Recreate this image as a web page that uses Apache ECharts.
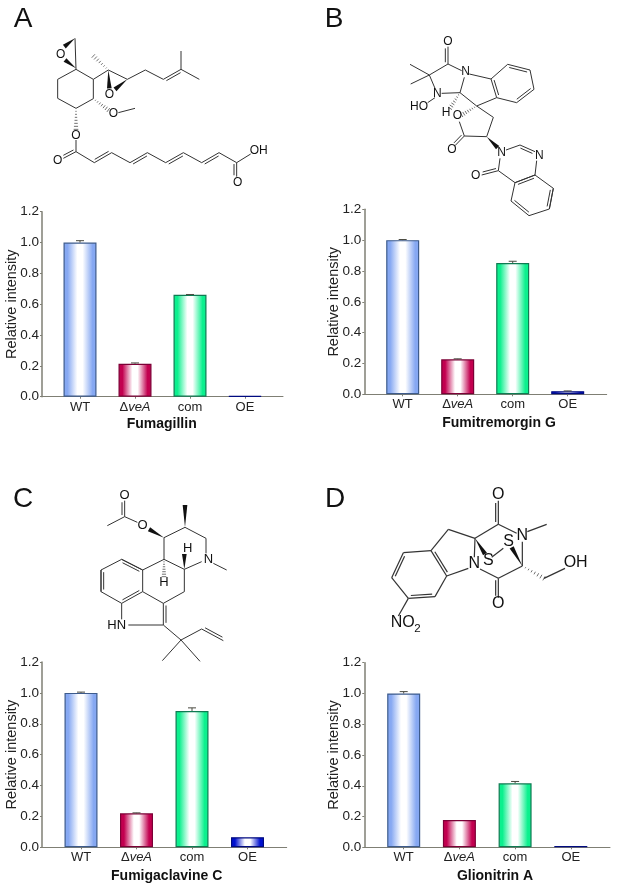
<!DOCTYPE html>
<html>
<head>
<meta charset="utf-8">
<title>Relative intensity of four metabolites</title>
<script src="https://cdn.jsdelivr.net/npm/echarts@6/dist/echarts.min.js"></script>
<style>
  html, body { margin: 0; background: #fff; }
  #chart { width: 617px; height: 890px; }
</style>
</head>
<body>
<div id="chart"></div>
<script>
const categories = ['WT', 'ΔveA', 'com', 'OE'];
const yTicks = [0, 0.2, 0.4, 0.6, 0.8, 1.0, 1.2];

const compounds = ['Fumagillin', 'Fumitremorgin G', 'Fumigaclavine C', 'Glionitrin A'];
const panelLetters = ['A', 'B', 'C', 'D'];

const fumagillinValues = [1.0, 0.214, 0.661, 0.004];
const fumagillinErrors = [0.012, 0.005, 0.002, 0];
const fumitremorginValues = [1.0, 0.227, 0.851, 0.02];
const fumitremorginErrors = [0.004, 0.003, 0.012, 0.002];
const fumigaclavineValues = [1.0, 0.22, 0.883, 0.065];
const fumigaclavineErrors = [0.005, 0.003, 0.02, 0];
const glionitrinValues = [1.0, 0.177, 0.416, 0.008];
const glionitrinErrors = [0.012, 0, 0.012, 0];

const allValues = [fumagillinValues, fumitremorginValues, fumigaclavineValues, glionitrinValues];
const allErrors = [fumagillinErrors, fumitremorginErrors, fumigaclavineErrors, glionitrinErrors];

// plot boxes in page pixels: axis ends, first bar centre, distance between bars
const boxes = [
  { left: 42, right: 283, top: 211.7, bottom: 396.7, first: 80, band: 55 },
  { left: 364.3, right: 606.7, top: 209.3, bottom: 394.3, first: 402.7, band: 55 },
  { left: 42, right: 286.7, top: 662, bottom: 847.3, first: 81, band: 55.5 },
  { left: 364.3, right: 610, top: 662.7, bottom: 847.3, first: 403.7, band: 55.7 }
];
const letterPos = [[23, 19], [334, 19], [23, 499.5], [335, 499.5]];
const titlePos = [[161.7, 424], [499, 423], [166.7, 876], [495, 876]];

const barColors = [
  { edge: '#86a8f2', border: '#3d5b8c' },
  { edge: '#c2004f', border: '#7c0036' },
  { edge: '#0cf08e', border: '#0f7a52' },
  { edge: '#0010cf', border: '#000a80' }
];

const inkColor = '#222';
const axisColor = '#7f7f74';
const fontFamily = '"Liberation Sans", Arial, sans-serif';

function barFill(edge) {
  return new echarts.graphic.LinearGradient(0, 0, 1, 0, [
    { offset: 0, color: edge },
    { offset: 0.12, color: edge },
    { offset: 0.42, color: '#fff' },
    { offset: 0.58, color: '#fff' },
    { offset: 0.88, color: edge },
    { offset: 1, color: edge }
  ]);
}

// Structures are traced in 3x crop units from an origin; see drawStructure
const structures = [
  {
    origin: [0, 0], font: 12, width: 1,
    lines: [
      [228,208,280,238,280,296,228,325,173,295,173,238,228,208],
      [225,115,228,208], [280,238,325,210], [325,210,382,238],
      [382,238,436,210,490,238], [543,208,598,238], [543,208,543,153],
      [355,338,405,325], [228,420,228,455], [228,455,283,488],
      [335,458,390,488], [442,458,497,488], [550,458,605,488],
      [657,458,710,488,752,462]
    ],
    doubles: [
      [490,238,543,208,1], [228,455,190,475,1], [283,488,335,458,-1], [390,488,442,458,1],
      [497,488,550,458,1], [605,488,657,458,1], [710,488,710,530,1]
    ],
    wedges: [[225,115,193,140], [228,205,195,180], [325,210,328,265], [382,238,345,268]],
    hashes: [[325,210,280,168], [280,296,325,330], [228,325,228,388]],
    labels: [
      ['O',182,163], ['O',328,283], ['O',340,342], ['O',228,407], ['O',173,481],
      ['OH',776,452], ['O',713,547]
    ]
  },
  {
    origin: [320, 0], font: 12, width: 1,
    lines: [
      [384,192,425,212], [384,192,328,225], [328,225,270,193], [328,225,272,252], [328,225,345,265],
      [365,280,420,278], [420,278,433,232], [345,293,323,308], [420,278,470,318], [470,318,530,293],
      [448,222,513,237], [513,237,563,193], [630,210,642,268], [590,308,530,293],
      [470,318,520,352,500,410,433,408,418,365], [558,450,600,435], [650,482,645,525,700,565],
      [645,525,585,548], [585,548,535,512,540,475], [688,627,627,647], [573,603,585,548], [700,565,688,627]
    ],
    doubles: [
      [384,140,384,192,1], [563,193,630,210,1], [642,268,590,308,1], [513,237,530,293,-1],
      [433,408,405,437,1], [600,435,645,455,1], [535,512,485,525,1],
      [585,548,645,525,1], [700,565,688,627,1], [627,647,573,603,1]
    ],
    wedges: [[500,410,533,443]],
    hashes: [[420,278,390,325], [470,318,425,345]],
    labels: [
      ['O',384,126], ['N',437,216], ['N',352,280], ['HO',297,320], ['H',378,337], ['O',412,347],
      ['O',396,450], ['N',545,458], ['N',658,466], ['O',467,527]
    ]
  },
  {
    origin: [0, 470], font: 13, width: 1,
    lines: [
      [374,140,322,167], [374,140,412,157], [492,203,555,172,618,205,618,250], [492,203,492,268],
      [492,268,553,298,605,275], [640,280,680,300], [492,268,428,300], [553,298,553,365,490,400],
      [428,300,365,268], [303,300,303,365], [428,365,428,300], [365,400,303,365], [365,268,303,300],
      [428,365,490,400], [490,465,385,465], [365,400,365,448], [490,465,543,510,605,477],
      [543,510,487,572], [543,510,600,574]
    ],
    doubles: [
      [374,92,374,140,1], [365,268,428,300,1], [303,300,303,365,-1], [365,400,428,365,-1],
      [490,400,490,465,-1], [605,477,670,512,-1]
    ],
    wedges: [[492,203,447,178], [555,172,555,105], [553,298,553,252]],
    hashes: [[492,268,492,320]],
    labels: [['O',374,77], ['O',428,165], ['N',625,268], ['H',563,236], ['H',492,337], ['HN',350,467]]
  },
  {
    origin: [320, 470], font: 16, width: 1.2,
    lines: [
      [535,163,465,205,385,178,333,242], [535,163,590,190], [622,185,680,163],
      [465,205,463,262], [515,262,550,235], [607,288,607,215], [480,297,535,325,607,288],
      [672,325,735,295], [333,242,250,248], [215,323,265,385], [345,380,380,318],
      [380,318,445,295], [265,385,235,438]
    ],
    doubles: [
      [535,92,535,163,1], [535,325,535,383,1], [333,242,380,318,-1], [250,248,215,323,-1], [265,385,345,380,-1]
    ],
    wedges: [[465,205,495,252], [607,288,575,232]],
    hashes: [[607,288,672,325]],
    labels: [
      ['O',535,75], ['N',607,197], ['S',566,215], ['S',505,272], ['N',463,280],
      ['OH',767,277], ['O',535,400], ['NO',248,458]
    ],
    subs: [['2',292,475]]
  }
];

function drawStructure(mol) {
  const [ox, oy] = mol.origin;
  const px = x => ox + x / 3;
  const py = y => oy + y / 3;
  const ink = '#333';
  const out = [];
  const seg = (x1, y1, x2, y2, w) => out.push({
    type: 'line',
    shape: { x1: px(x1), y1: py(y1), x2: px(x2), y2: py(y2) },
    style: { stroke: ink, lineWidth: w || mol.width }
  });

  mol.lines.forEach(l => {
    for (let i = 0; i + 3 < l.length; i += 2) seg(l[i], l[i + 1], l[i + 2], l[i + 3]);
  });

  mol.doubles.forEach(([x1, y1, x2, y2, side]) => {
    seg(x1, y1, x2, y2);
    const len = Math.hypot(x2 - x1, y2 - y1);
    const nx = -(y2 - y1) / len * 8 * side;
    const ny = (x2 - x1) / len * 8 * side;
    const tx = (x2 - x1) * 0.1;
    const ty = (y2 - y1) * 0.1;
    seg(x1 + nx + tx, y1 + ny + ty, x2 + nx - tx, y2 + ny - ty);
  });

  mol.wedges.forEach(([x1, y1, x2, y2]) => {
    const len = Math.hypot(x2 - x1, y2 - y1);
    const nx = -(y2 - y1) / len * 7;
    const ny = (x2 - x1) / len * 7;
    out.push({
      type: 'polygon',
      shape: { points: [[px(x1), py(y1)], [px(x2 + nx), py(y2 + ny)], [px(x2 - nx), py(y2 - ny)]] },
      style: { fill: '#111' }
    });
  });

  mol.hashes.forEach(([x1, y1, x2, y2]) => {
    const len = Math.hypot(x2 - x1, y2 - y1);
    const ux = -(y2 - y1) / len;
    const uy = (x2 - x1) / len;
    const n = 7;
    for (let i = 1; i <= n; i++) {
      const t = i / n;
      const cx = x1 + (x2 - x1) * t;
      const cy = y1 + (y2 - y1) * t;
      const h = 1 + 6 * t;
      seg(cx - ux * h, cy - uy * h, cx + ux * h, cy + uy * h, 0.7);
    }
  });

  mol.labels.forEach(([text, x, y]) => out.push({
    type: 'text',
    x: px(x), y: py(y),
    style: { text, fill: '#111', font: `${mol.font}px ${fontFamily}`, align: 'center', verticalAlign: 'middle' }
  }));

  (mol.subs || []).forEach(([text, x, y]) => out.push({
    type: 'text',
    x: px(x), y: py(y),
    style: { text, fill: '#111', font: `${mol.font * 0.72}px ${fontFamily}`, align: 'center', verticalAlign: 'middle' }
  }));

  return out;
}

const chart = echarts.init(document.getElementById('chart'), null, { renderer: 'canvas' });

const grids = [], xAxes = [], yAxes = [], titles = [], series = [];

boxes.forEach((box, p) => {
  grids.push({
    left: box.left,
    top: box.top,
    width: box.right - box.left,
    height: box.bottom - box.top
  });

  xAxes.push({
    gridIndex: p,
    type: 'value',
    min: (box.left - box.first) / box.band,
    max: (box.right - box.first) / box.band,
    splitLine: { show: false },
    axisLine: { onZero: false, lineStyle: { color: axisColor, width: 1 } },
    axisTick: { show: true, length: 2, customValues: [0, 1, 2, 3], lineStyle: { color: axisColor } },
    axisLabel: {
      customValues: [0, 1, 2, 3],
      margin: 4,
      color: inkColor,
      fontFamily,
      fontSize: 13,
      formatter: v => (categories[v] === 'ΔveA' ? '{d|Δ}{i|veA}' : categories[v]),
      rich: {
        d: { fontFamily, fontSize: 13, color: inkColor },
        i: { fontFamily, fontSize: 13, color: inkColor, fontStyle: 'italic' }
      }
    }
  });

  yAxes.push({
    gridIndex: p,
    type: 'value',
    min: yTicks[0],
    max: yTicks[yTicks.length - 1],
    interval: 0.2,
    name: 'Relative intensity',
    nameLocation: 'middle',
    nameGap: 23,
    nameMoveOverlap: false,
    nameTextStyle: { color: inkColor, fontFamily, fontSize: 14.5 },
    splitLine: { show: false },
    axisLine: { show: true, onZero: false, lineStyle: { color: axisColor, width: 1.5 } },
    axisTick: { show: true, length: 2, lineStyle: { color: axisColor } },
    axisLabel: {
      margin: 3,
      color: inkColor,
      fontFamily,
      fontSize: 13.5,
      formatter: v => v.toFixed(1)
    }
  });

  titles.push({
    text: panelLetters[p],
    left: letterPos[p][0],
    top: letterPos[p][1],
    padding: 0,
    textAlign: 'center',
    textVerticalAlign: 'middle',
    textStyle: { color: '#111', fontFamily, fontSize: 28, fontWeight: 'normal' }
  });
  titles.push({
    text: compounds[p],
    left: titlePos[p][0],
    top: titlePos[p][1],
    padding: 0,
    textAlign: 'center',
    textVerticalAlign: 'middle',
    textStyle: { color: '#111', fontFamily, fontSize: 14, fontWeight: 'bold' }
  });

  series.push({
    type: 'bar',
    xAxisIndex: p,
    yAxisIndex: p,
    barWidth: 33,
    data: allValues[p].map((v, i) => ({
      value: [i, v],
      itemStyle: { color: barFill(barColors[i].edge), borderColor: barColors[i].border, borderWidth: 1.2 }
    }))
  });

  series.push({
    type: 'custom',
    xAxisIndex: p,
    yAxisIndex: p,
    z: 3,
    data: allValues[p].map((v, i) => [i, v, allErrors[p][i]]),
    renderItem: (params, api) => {
      const err = api.value(2);
      if (!err) return null;
      const base = api.coord([api.value(0), api.value(1)]);
      const top = api.coord([api.value(0), api.value(1) + err]);
      const style = { stroke: '#4a4a40', lineWidth: 1, fill: null };
      return {
        type: 'group',
        children: [
          { type: 'line', shape: { x1: base[0], y1: base[1], x2: top[0], y2: top[1] }, style },
          { type: 'line', shape: { x1: base[0] - 4, y1: top[1], x2: base[0] + 4, y2: top[1] }, style }
        ]
      };
    }
  });
});

chart.setOption({
  animation: false,
  backgroundColor: '#fff',
  title: titles,
  grid: grids,
  xAxis: xAxes,
  yAxis: yAxes,
  series,
  graphic: { elements: structures.flatMap(drawStructure) }
});
</script>
</body>
</html>
